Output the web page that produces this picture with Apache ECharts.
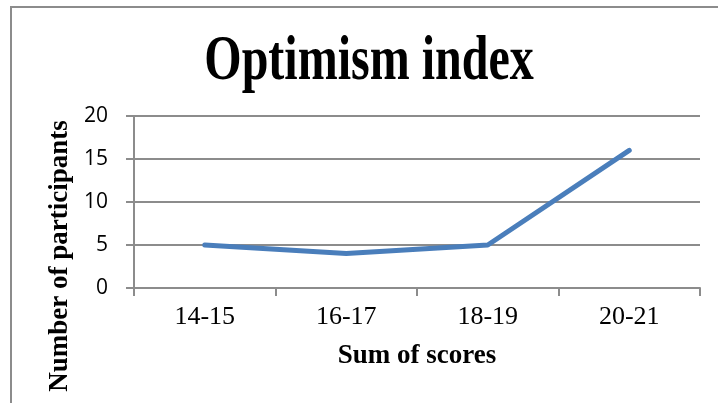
<!DOCTYPE html>
<html>
<head>
<meta charset="utf-8">
<script src="https://cdn.jsdelivr.net/npm/echarts@6/dist/echarts.min.js"></script>
<style>
  html, body { margin: 0; padding: 0; background: #fff; }
  .frame {
    position: absolute;
    left: 10px;
    top: 6px;
    width: 708px;
    height: 397px;
    border-top: 2px solid #8c8c8c;
    border-left: 2px solid #8c8c8c;
    box-sizing: border-box;
  }
  #main { position: absolute; left: 0; top: 0; width: 718px; height: 403px; }
</style>
</head>
<body>
<div class="frame"></div>
<div id="main"></div>
<script>
const categories = ['14-15', '16-17', '18-19', '20-21']
const participants = [5, 4, 5, 16]

const chart = echarts.init(document.getElementById('main'))

chart.setOption({
  // title is drawn as graphic text so it can be squeezed like the original (tall, narrow)
  graphic: [
    {
      type: 'text',
      x: 369,
      y: 62,
      scaleX: 0.75,
      style: {
        text: 'Optimism index',
        font: 'bold 64px "Liberation Serif"',
        fill: '#000',
        textAlign: 'center',
        textVerticalAlign: 'middle'
      }
    }
  ],
  grid: {
    left: 134,
    right: 18,
    top: 116,
    bottom: 115
  },
  xAxis: {
    type: 'category',
    data: categories,
    boundaryGap: true,
    name: 'Sum of scores',
    nameLocation: 'middle',
    nameGap: 55,
    nameTextStyle: {
      fontFamily: 'Liberation Serif',
      fontWeight: 'bold',
      fontSize: 27,
      color: '#000'
    },
    axisLine: { lineStyle: { color: '#8c8c8c', width: 2 } },
    axisTick: { show: true, length: 8, lineStyle: { color: '#8c8c8c', width: 2 } },
    axisLabel: {
      margin: 16,
      fontFamily: 'Liberation Serif',
      fontSize: 26,
      color: '#000'
    }
  },
  yAxis: {
    type: 'value',
    min: 0,
    max: 20,
    interval: 5,
    name: 'Number of participants',
    nameLocation: 'middle',
    nameGap: 59,
    nameRotate: 90,
    nameTextStyle: {
      fontFamily: 'Liberation Serif',
      fontWeight: 'bold',
      fontSize: 27,
      color: '#000',
      padding: [0, 108, 0, 0]
    },
    axisLine: { show: true, lineStyle: { color: '#8c8c8c', width: 2 } },
    axisTick: { show: true, length: 8, lineStyle: { color: '#8c8c8c', width: 2 } },
    splitLine: { lineStyle: { color: '#8c8c8c', width: 2 } },
    axisLabel: {
      margin: 26,
      fontFamily: 'Open Sans',
      fontSize: 21,
      color: '#000'
    }
  },
  series: [
    {
      type: 'line',
      data: participants,
      showSymbol: false,
      symbol: 'none',
      lineStyle: { color: '#4a7ebb', width: 5, cap: 'round', join: 'round' }
    }
  ]
})
</script>
</body>
</html>
